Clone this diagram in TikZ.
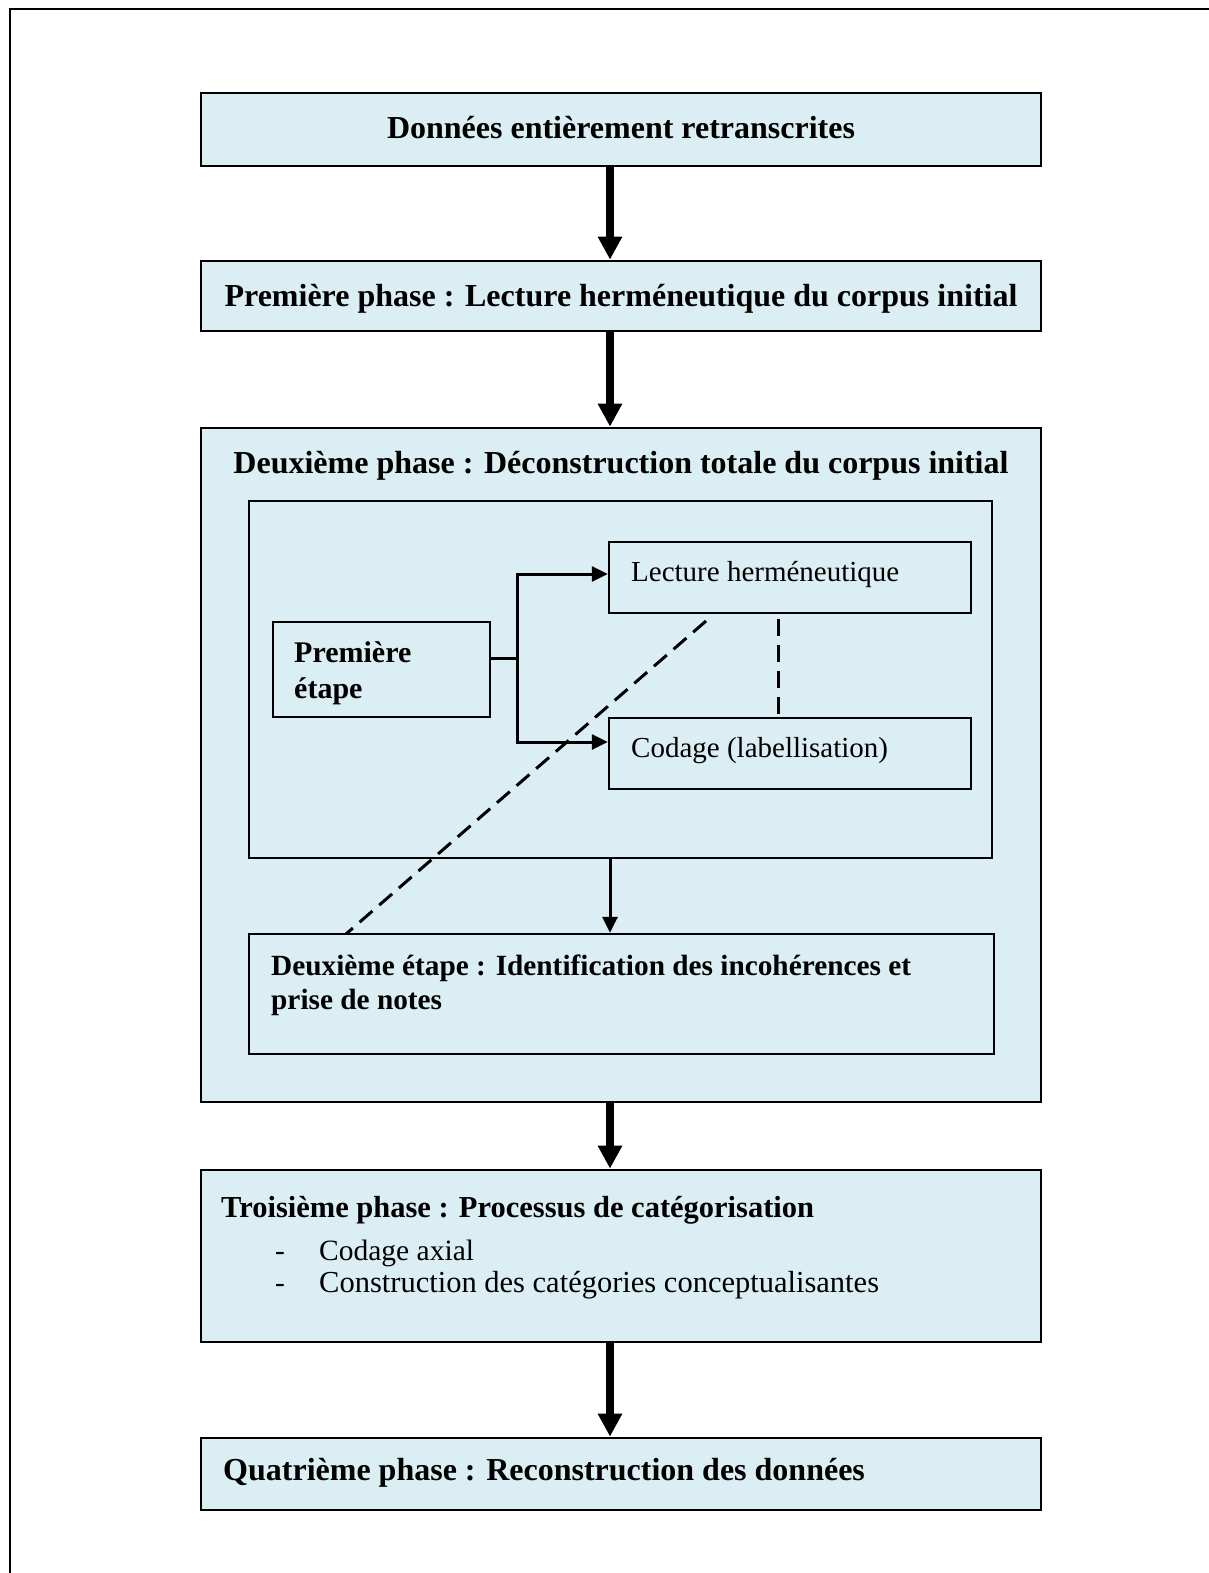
\documentclass[tikz,border=0pt]{standalone}
\usepackage{fontspec}
\setmainfont{Liberation Serif}
\usetikzlibrary{arrows.meta}
\definecolor{boxfill}{HTML}{DAEEF3}
\begin{document}
\begin{tikzpicture}[x=1pt,y=-1pt,
  box/.style={draw, fill=boxfill, line width=2.7pt, inner sep=0pt},
  ibox/.style={draw, fill=boxfill, line width=2.3pt, inner sep=0pt},
  txt/.style={inner sep=0pt, font=\fontsize{29.5}{34}\selectfont},
  btxt/.style={inner sep=0pt, font=\fontsize{32}{36}\selectfont\bfseries},
  bigarrow/.style={line width=8pt, -{Triangle[length=23pt,width=23pt]}},
  thinarrow/.style={line width=3pt, line join=miter, -{Triangle[length=16pt,width=15pt]}},
  dashline/.style={line width=3pt, dash pattern=on 17pt off 9pt}]
\useasboundingbox (0,0) rectangle (1208,1573);
\fill[white] (0,0) rectangle (1208,1573);
% outer frame
\coordinate (fb) at (10,1580);
\coordinate (fc) at (10,9.5);
\coordinate (fr) at (1215,9.5);
\draw[line width=2pt] (fb) -- (fc) -- (fr);
% boxes
\node[box, minimum width=840pt, minimum height=73pt] (b1) at (621,129.5) {};
\node[box, minimum width=840pt, minimum height=70pt] (b2) at (621,296) {};
\node[box, minimum width=840pt, minimum height=674pt] (b3) at (621,765) {};
\node[ibox, minimum width=743pt, minimum height=357pt] (inner) at (620.5,679.5) {};
\node[ibox, minimum width=217pt, minimum height=95pt] (pe) at (381.5,669.5) {};
\node[ibox, minimum width=362pt, minimum height=71pt] (lh) at (790,577.5) {};
\node[ibox, minimum width=362pt, minimum height=71pt] (cod) at (790,753.5) {};
\node[ibox, minimum width=745pt, minimum height=120pt] (de) at (621.5,994) {};
\node[box, minimum width=840pt, minimum height=172pt] (b4) at (621,1256) {};
\node[box, minimum width=840pt, minimum height=72pt] (b5) at (621,1474) {};
% texts
\node[btxt, anchor=base] (t1) at (621,139) {Données entièrement retranscrites};
\node[btxt, anchor=base] (t2) at (621,306) {Première phase : Lecture herméneutique du corpus initial};
\node[btxt, anchor=base] (t3) at (621,473) {Deuxième phase : Déconstruction totale du corpus initial};
\node[btxt, font=\fontsize{30}{36}\selectfont\bfseries, anchor=base west, align=left] (tpe) at (294,698) {Première\\étape};
\node[txt, font=\fontsize{29}{34}\selectfont, anchor=base west] (tlh) at (631,581) {Lecture herméneutique};
\node[txt, font=\fontsize{29}{34}\selectfont, anchor=base west] (tcod) at (631,757) {Codage (labellisation)};
\node[btxt, font=\fontsize{29.3}{34}\selectfont\bfseries, anchor=base west, align=left] (tde) at (271,1009) {Deuxième étape : Identification des incohérences et\\prise de notes};
\node[btxt, font=\fontsize{30.5}{34}\selectfont\bfseries, anchor=base west] (t4) at (221,1217) {Troisième phase : Processus de catégorisation};
\node[txt, anchor=base west] (d1) at (275,1260) {-};
\node[txt, anchor=base west] (l1) at (319,1260) {Codage axial};
\node[txt, anchor=base west] (d2) at (275,1292) {-};
\node[txt, font=\fontsize{30.5}{34}\selectfont, anchor=base west] (l2) at (319,1292) {Construction des catégories conceptualisantes};
\node[btxt, anchor=base west] (t5) at (223,1480) {Quatrième phase : Reconstruction des données};
% connectors
\coordinate (ax) at (610,0);
\draw[bigarrow] (b1.south -| ax) -- (b2.north -| ax);
\draw[bigarrow] (b2.south -| ax) -- (b3.north -| ax);
\draw[bigarrow] (b3.south -| ax) -- (b4.north -| ax);
\draw[bigarrow] (b4.south -| ax) -- (b5.north -| ax);
\coordinate (br) at (517,658);
\coordinate (bt) at (517,574);
\coordinate (bb) at (517,742);
\draw[line width=3pt] (pe.east |- br) -- (br);
\draw[thinarrow] (bb) -- (bt) -- (lh.west |- bt);
\draw[thinarrow] (bt) -- (bb) -- (cod.west |- bb);
\coordinate (dx) at (778,0);
\draw[dashline] (lh.south -| dx) ++(0,5) -- (cod.north -| dx);
\coordinate (dg1) at (706,621);
\coordinate (dg2) at (346,934);
\draw[dashline] (dg1) -- (dg2);
\draw[thinarrow] (inner.south -| ax) -- (de.north -| ax);
\end{tikzpicture}
\end{document}
